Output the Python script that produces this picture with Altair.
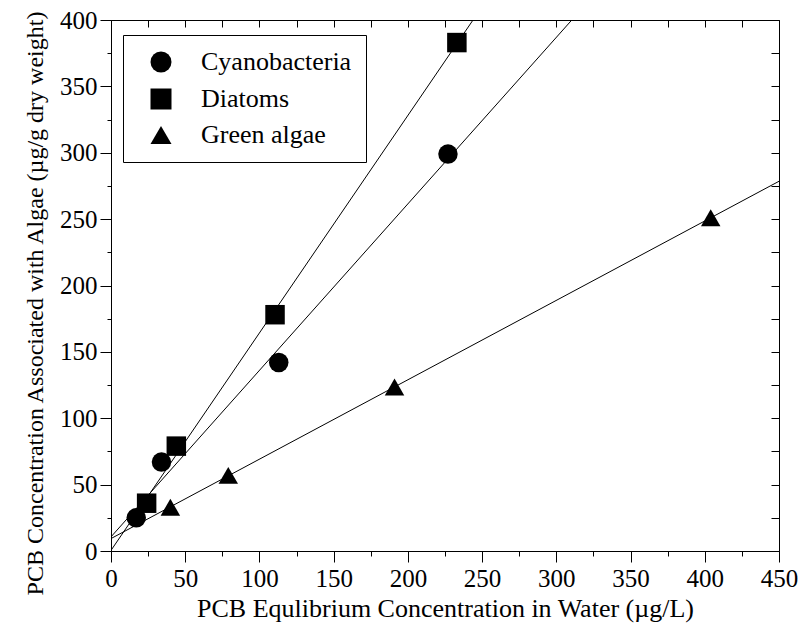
import altair as alt
import pandas as pd

# ---- data ----
cyano_x = [17, 34, 113, 227]
cyano_y = [25, 67, 142, 299]
diatom_x = [24, 44, 110.5, 233]
diatom_y = [36, 79, 178, 383]
green_x = [40, 79, 191, 404]
green_y = [33, 57, 123.5, 251]
series_names = ["Cyanobacteria", "Diatoms", "Green algae"]
shapes = ["circle", "square", "triangle-up"]

x_ticks = list(range(0, 451, 25))
y_ticks = list(range(0, 401, 25))

rows = []
for name, xs, ys in zip(series_names, [cyano_x, diatom_x, green_x], [cyano_y, diatom_y, green_y]):
    for xv, yv in zip(xs, ys):
        rows.append({"x": xv, "y": yv, "series": name})
df = pd.DataFrame(rows)

FONT = "Liberation Serif"
xscale = alt.Scale(domain=[0, 450], nice=False, zero=False)
yscale = alt.Scale(domain=[0, 400], nice=False, zero=False)

x_bottom = alt.Axis(
    orient="bottom", values=x_ticks, grid=False,
    labelExpr="datum.value % 50 === 0 ? datum.label : ''",
    tickSize={"condition": {"test": "datum.value % 50 === 0", "value": 11}, "value": 5},
    labelOverlap=False, labelFlush=False, labelPadding=4,
    title="PCB Equlibrium Concentration in Water (µg/L)", titleFontSize=26, titlePadding=4,
)
y_left = alt.Axis(
    orient="left", values=y_ticks, grid=False,
    labelExpr="datum.value % 50 === 0 ? datum.label : ''",
    tickSize={"condition": {"test": "datum.value % 50 === 0", "value": 11}, "value": 4},
    labelOverlap=False, labelFlush=False, labelPadding=3,
    title="PCB Concentration Associated with Algae (µg/g dry weight)", titleFontSize=24,
    titlePadding=12, titleY=283,
)
x_top = alt.Axis(orient="top", values=x_ticks, grid=False, labels=False, domain=False,
                 tickSize=7, offset=-7, title=None)
y_right = alt.Axis(orient="right", values=y_ticks, grid=False, labels=False, domain=False,
                   tickSize=8, offset=-8, title=None)

lines = alt.Chart(df).transform_regression(
    "x", "y", groupby=["series"], extent=[0, 450]
).mark_line(clip=True, color="black", strokeWidth=1).encode(
    x=alt.X("x:Q", scale=xscale, axis=x_bottom),
    y=alt.Y("y:Q", scale=yscale, axis=y_left),
    detail="series:N",
)

points = alt.Chart(df).mark_point(filled=True, size=380, color="black", opacity=1).encode(
    x=alt.X("x:Q", scale=xscale, axis=x_top),
    y=alt.Y("y:Q", scale=yscale, axis=y_right),
    shape=alt.Shape(
        "series:N",
        scale=alt.Scale(domain=series_names, range=shapes),
        legend=alt.Legend(
            title=None, orient="none", legendX=12, legendY=15,
            symbolSize=441, symbolFillColor="black", symbolStrokeColor="black",
            symbolOffset=11, labelOffset=27, padding=14, rowPadding=9,
            labelFont=FONT, labelFontSize=26, labelColor="black",
            strokeColor="black", fillColor="white",
        ),
    ),
)

chart = alt.layer(lines, points).resolve_axis(
    x="independent", y="independent"
).properties(
    width=668, height=531,
    autosize=alt.AutoSizeParams(type="none"),
    padding={"left": 103, "top": 12, "right": 25, "bottom": 80},
    background="white",
).configure_view(
    stroke="black", strokeWidth=1
).configure_axis(
    labelFont=FONT, labelFontSize=25, labelColor="black",
    titleFont=FONT, titleFontWeight="normal", titleColor="black",
    domainColor="black", domainWidth=1, tickColor="black", tickWidth=1,
)

chart.save("out.html", embed_options={"renderer": "svg", "actions": False})
